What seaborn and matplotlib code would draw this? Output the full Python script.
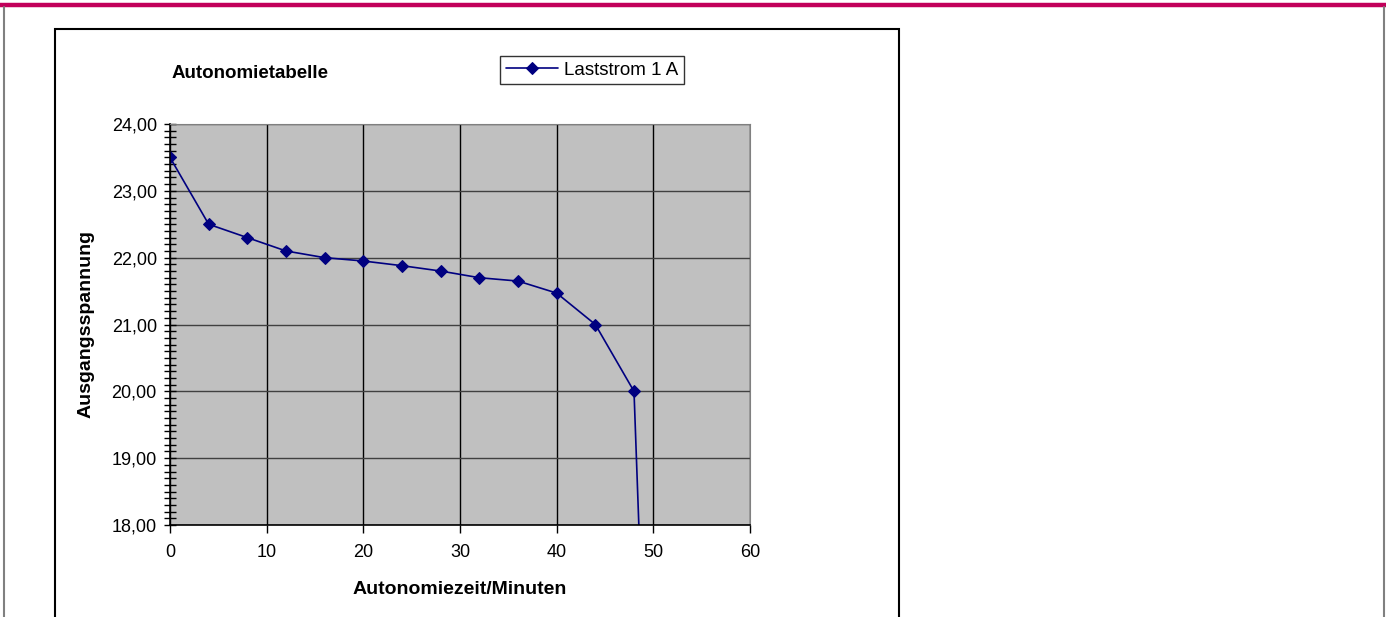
import matplotlib
matplotlib.use("Agg")
import matplotlib.pyplot as plt
import matplotlib.ticker as mticker
from matplotlib.lines import Line2D
from matplotlib.patches import Rectangle
import pandas as pd
import seaborn as sns

# values
zeit_minuten = [0, 4, 8, 12, 16, 20, 24, 28, 32, 36, 40, 44, 48, 48.7]
spannung = [23.5, 22.5, 22.3, 22.1, 22.0, 21.95, 21.88, 21.8, 21.7, 21.65, 21.47, 21.0, 20.0, 17.2]
serie = "Laststrom 1 A"
x_ticks = [0, 10, 20, 30, 40, 50, 60]
y_ticks = [18, 19, 20, 21, 22, 23, 24]

df = pd.DataFrame({"Autonomiezeit/Minuten": zeit_minuten, "Ausgangsspannung": spannung})

sns.set_style("white")
plt.rcParams["font.family"] = ["Liberation Sans", "DejaVu Sans"]
plt.rcParams["text.color"] = "black"
plt.rcParams["axes.labelcolor"] = "black"
plt.rcParams["xtick.color"] = "black"
plt.rcParams["ytick.color"] = "black"

W, H = 1386, 617
fig = plt.figure(figsize=(W / 100, H / 100), dpi=100)

# page decoration: magenta bar, side rules, chart frame
fig.add_artist(Line2D([0, 1], [1 - 5 / H, 1 - 5 / H], color="#C2005A", lw=3.2, transform=fig.transFigure))
fig.add_artist(Line2D([4 / W, 4 / W], [0, 1 - 7 / H], color="#808080", lw=1.5, transform=fig.transFigure))
fig.add_artist(Line2D([1384 / W, 1384 / W], [0, 1 - 7 / H], color="#808080", lw=1.5, transform=fig.transFigure))
fig.add_artist(Rectangle((55 / W, -0.1), (899 - 55) / W, 0.1 + 1 - 29 / H, transform=fig.transFigure,
                         fill=False, edgecolor="black", lw=1.5))

ax = fig.add_axes([170 / W, 92 / H, 580 / W, 401 / H])
ax.set_facecolor("#C0C0C0")

sns.lineplot(data=df, x="Autonomiezeit/Minuten", y="Ausgangsspannung", ax=ax, sort=False,
             color="#000080", lw=1.2, marker="D", markersize=6, markeredgecolor="#000080",
             label=serie)

ax.set_xlim(0, 60)
ax.set_ylim(18, 24)
ax.set_xticks(x_ticks)
ax.set_yticks(y_ticks)
ax.yaxis.set_minor_locator(mticker.MultipleLocator(0.1))
ax.yaxis.set_major_formatter(mticker.FuncFormatter(lambda v, p: f"{v:.2f}".replace(".", ",")))

ax.xaxis.grid(True, color="black", lw=1)
ax.yaxis.grid(True, color="#404040", lw=1)
ax.set_axisbelow(True)
for s in ["top", "right"]:
    ax.spines[s].set_color("#808080")
for s in ["left", "bottom"]:
    ax.spines[s].set_color("black")
    ax.spines[s].set_linewidth(1.2)

ax.tick_params(axis="x", which="major", bottom=True, labelsize=13, length=6, width=1, direction="out", pad=8)
ax.tick_params(axis="y", which="major", left=True, labelsize=13, length=9, width=1, direction="inout", pad=5)
ax.tick_params(axis="y", which="minor", left=True, length=9, width=1, direction="inout")

ax.set_xlabel("Autonomiezeit/Minuten", fontsize=14, fontweight="bold", labelpad=14)
ax.set_ylabel("Ausgangsspannung", fontsize=14, fontweight="bold", labelpad=12)

fig.text(172 / W, 1 - 73 / H, "Autonomietabelle", fontsize=13.5, fontweight="bold", va="center", ha="left")

leg = ax.legend(loc="center", bbox_to_anchor=((592 - 170) / 580, 1 + (124 - 70) / 401), frameon=True,
                fontsize=13.5, handlelength=2.8, borderpad=0.3, fancybox=False, edgecolor="black",
                handletextpad=0.3, borderaxespad=0)
leg.get_frame().set_linewidth(1)

fig.savefig("out.png", dpi=100)
